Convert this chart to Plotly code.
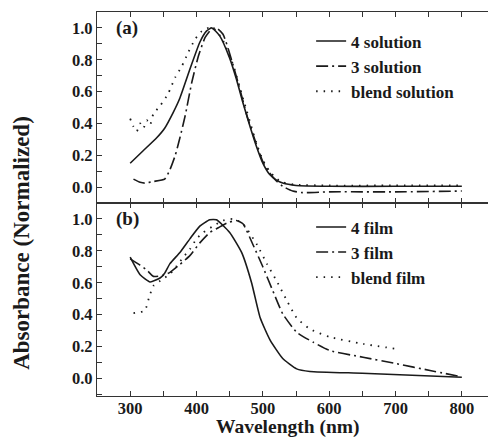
import plotly.graph_objects as go

# ---- data ----
wl_4_sol = [300, 320, 340, 352, 365, 375, 390, 405, 415, 423, 435, 450, 460, 470, 480, 490, 500, 510, 520, 530, 550, 600, 700, 800]
ab_4_sol = [0.15, 0.23, 0.31, 0.37, 0.47, 0.56, 0.74, 0.91, 0.98, 1.0, 0.95, 0.81, 0.68, 0.53, 0.39, 0.26, 0.15, 0.08, 0.045, 0.025, 0.01, 0.005, 0.005, 0.005]

wl_3_sol = [305, 315, 322, 335, 352, 360, 368, 375, 383, 393, 403, 413, 422, 430, 440, 455, 465, 476, 491, 500, 510, 520, 530, 545, 560, 600, 700, 800]
ab_3_sol = [0.05, 0.03, 0.025, 0.035, 0.05, 0.11, 0.2, 0.31, 0.45, 0.66, 0.825, 0.94, 0.99, 1.0, 0.96, 0.77, 0.62, 0.45, 0.26, 0.16, 0.09, 0.04, 0.005, -0.025, -0.035, -0.03, -0.03, -0.025]

wl_blend_sol = [300, 305, 310, 315, 320, 325, 330, 335, 345, 357, 368, 378, 388, 398, 408, 418, 428, 440, 455, 470, 490, 500, 510, 520, 530, 550, 600, 700, 800]
ab_blend_sol = [0.43, 0.38, 0.35, 0.40, 0.37, 0.42, 0.39, 0.46, 0.51, 0.585, 0.69, 0.76, 0.85, 0.93, 0.98, 1.0, 0.99, 0.92, 0.77, 0.56, 0.28, 0.17, 0.10, 0.055, 0.03, 0.015, 0.01, 0.01, 0.01]

wl_4_film = [300, 315, 330, 345, 352, 360, 375, 390, 405, 420, 430, 450, 468, 483, 496, 511, 530, 551, 571, 650, 725, 800]
ab_4_film = [0.76, 0.65, 0.605, 0.63, 0.66, 0.72, 0.79, 0.875, 0.955, 0.995, 0.995, 0.915, 0.79, 0.6, 0.38, 0.24, 0.125, 0.06, 0.044, 0.033, 0.02, 0.008]

wl_3_film = [300, 315, 325, 335, 348, 360, 375, 390, 405, 420, 433, 446, 460, 470, 485, 500, 515, 530, 551, 576, 601, 651, 702, 752, 800]
ab_3_film = [0.75, 0.71, 0.68, 0.64, 0.645, 0.665, 0.715, 0.77, 0.85, 0.915, 0.945, 0.975, 0.99, 0.97, 0.84, 0.70, 0.55, 0.405, 0.29, 0.227, 0.175, 0.133, 0.092, 0.05, 0.01]

wl_blend_film = [305, 322, 328, 335, 348, 360, 370, 380, 390, 400, 410, 425, 440, 455, 470, 491, 506, 521, 536, 551, 571, 601, 651, 702]
ab_blend_film = [0.41, 0.425, 0.5, 0.58, 0.62, 0.655, 0.705, 0.76, 0.81, 0.875, 0.915, 0.955, 0.99, 1.0, 0.97, 0.84, 0.72, 0.61, 0.49, 0.38, 0.31, 0.26, 0.217, 0.185]

names_sol = ["4 solution", "3 solution", "blend solution"]
names_film = ["4 film", "3 film", "blend film"]
x_ticks = [300, 400, 500, 600, 700, 800]
y_ticks = [0.0, 0.2, 0.4, 0.6, 0.8, 1.0]

FONT = "Liberation Serif"
INK = "#1a1a1a"
SOLID = "solid"
DASHDOT = "12px,4px,2px,4px"
DOT = "1.5px,6px"

def bold(size):
    return dict(family=FONT, size=size, color=INK, weight="bold")

fig = go.Figure()

def add(x, y, name, dash, yaxis, legend, width=1.6):
    fig.add_trace(go.Scatter(
        x=x, y=y, name=name, mode="lines",
        line=dict(color=INK, width=width, dash=dash, shape="spline", smoothing=0.5),
        xaxis="x" if yaxis == "y" else "x2", yaxis=yaxis, legend=legend))

add(wl_4_sol, ab_4_sol, names_sol[0], SOLID, "y", "legend")
add(wl_3_sol, ab_3_sol, names_sol[1], DASHDOT, "y", "legend")
add(wl_blend_sol, ab_blend_sol, names_sol[2], DOT, "y", "legend", width=1.8)
add(wl_4_film, ab_4_film, names_film[0], SOLID, "y2", "legend2")
add(wl_3_film, ab_3_film, names_film[1], DASHDOT, "y2", "legend2")
add(wl_blend_film, ab_blend_film, names_film[2], DOT, "y2", "legend2", width=1.8)

split = 0.5026
common_x = dict(range=[250, 850], showline=True, linecolor="#333", linewidth=1.2, mirror="ticks",
                ticks="inside", ticklen=5, tickcolor="#333", tickvals=x_ticks,
                minor=dict(dtick=50, ticks="inside", ticklen=5, tickcolor="#333"),
                showgrid=False, zeroline=False, tickfont=bold(16.5), automargin=False)
common_y = dict(showline=True, linecolor="#333", linewidth=1.2, mirror=True,
                ticks="inside", ticklen=5, tickcolor="#333", tickvals=y_ticks, tickformat=".1f",
                minor=dict(dtick=0.1, ticks="inside", ticklen=5, tickcolor="#333"),
                showgrid=False, zeroline=False, tickfont=bold(16.5), automargin=False)

# the page body has an 8px margin, so the figure is drawn 8px smaller and offset
fig.update_layout(
    width=488, height=430,
    margin=dict(l=89, r=1, t=4, b=42, autoexpand=False),
    plot_bgcolor="white", paper_bgcolor="white",
    font=dict(family=FONT, color=INK),
    xaxis=dict(**common_x, anchor="y", showticklabels=False),
    yaxis=dict(**common_y, domain=[split, 1.0], range=[-0.1, 1.1], anchor="x"),
    xaxis2=dict(**common_x, anchor="y2", ticklabelstandoff=-3),
    yaxis2=dict(**common_y, domain=[0, split], range=[-0.11, 1.1], anchor="x2"),
    legend=dict(x=0.538, y=0.97, xanchor="left", yanchor="top", bgcolor="rgba(0,0,0,0)",
                font=bold(17), tracegroupgap=0, traceorder="normal"),
    legend2=dict(x=0.538, y=0.486, xanchor="left", yanchor="top", bgcolor="rgba(0,0,0,0)",
                 font=bold(17), tracegroupgap=0, traceorder="normal"),
    showlegend=True,
    annotations=[
        dict(text="(a)", x=275, y=1.0, xref="x", yref="y", xanchor="left", yanchor="middle",
             showarrow=False, font=bold(19)),
        dict(text="(b)", x=275, y=1.0, xref="x2", yref="y2", xanchor="left", yanchor="middle",
             showarrow=False, font=bold(19)),
        dict(text="Absorbance (Normalized)", x=-0.19, y=0.40, xref="paper", yref="paper",
             xanchor="center", yanchor="middle", textangle=-90, showarrow=False,
             font=bold(23)),
        dict(text="Wavelength (nm)", x=0.48, y=-0.082, xref="paper", yref="paper",
             xanchor="center", yanchor="middle", showarrow=False, font=bold(19.5)),
    ],
)

fig.write_html("out.html")
